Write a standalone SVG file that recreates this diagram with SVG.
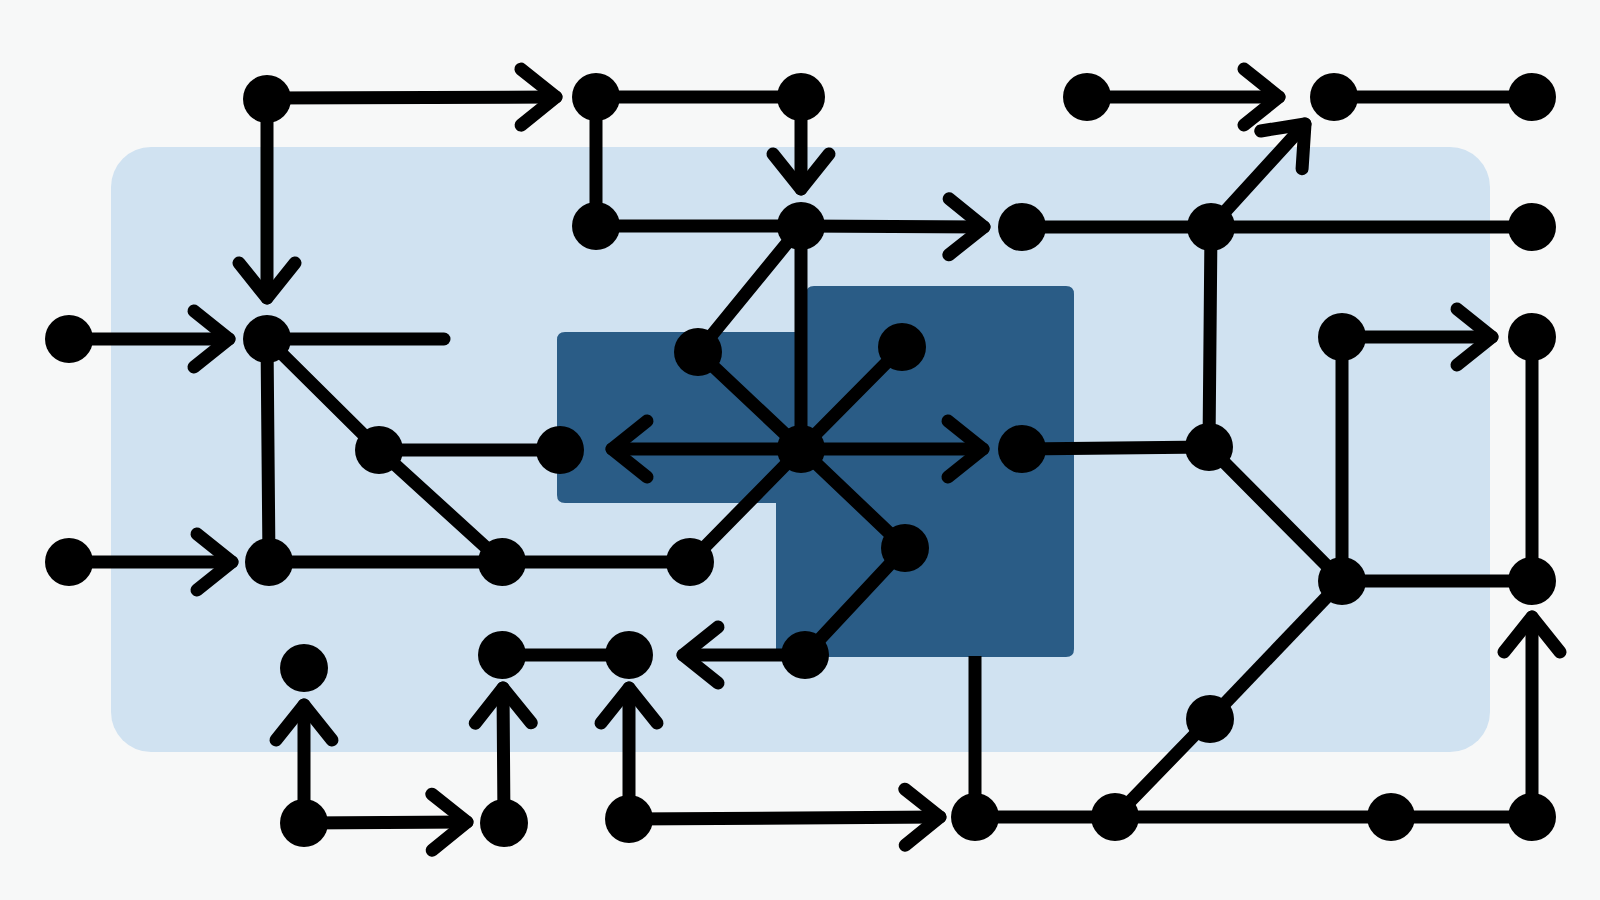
<svg xmlns="http://www.w3.org/2000/svg" width="1600" height="900" viewBox="0 0 1600 900">
  <style>
    .n { fill: #000; }
    .e { stroke: #000; stroke-width: 13; stroke-linecap: round; stroke-linejoin: round; fill: none; }
    .b { stroke-linecap: butt; }
    .a { marker-end: url(#arr); }
  </style>
  <defs>
    <marker id="arr" markerUnits="userSpaceOnUse" orient="auto" overflow="visible" markerWidth="1" markerHeight="1" refX="0" refY="0">
      <path d="M -35 -28 L 0 0 L -35 28" fill="none" stroke="#000" stroke-width="13" stroke-linecap="round" stroke-linejoin="round"/>
    </marker>
  </defs>
  <rect width="1600" height="900" fill="#f7f8f8"/>
  <g id="regions">
    <rect id="outer-region" x="111" y="147" width="1379" height="605" rx="40" fill="#d0e2f1"/>
    <path id="inner-region" d="M 565 332 L 806 332 L 806 294 Q 806 286 814 286 L 1066 286 Q 1074 286 1074 294 L 1074 649 Q 1074 657 1066 657 L 776 657 L 776 503 L 565 503 Q 557 503 557 495 L 557 340 Q 557 332 565 332 Z" fill="#2a5c86"/>
  </g>
  <g id="connectors">
    <line class="e a" x1="267" y1="98" x2="556" y2="97"/>
    <line class="e a" x1="267" y1="99" x2="267" y2="298"/>
    <line class="e" x1="596" y1="97" x2="596" y2="226"/>
    <line class="e" x1="596" y1="97" x2="801" y2="97"/>
    <line class="e a" x1="801" y1="97" x2="801" y2="189"/>
    <line class="e" x1="596" y1="226" x2="801" y2="226"/>
    <line class="e a" x1="801" y1="226" x2="984" y2="227"/>
    <line class="e" x1="801" y1="226" x2="698" y2="352"/>
    <line class="e" x1="801" y1="226" x2="801" y2="449"/>
    <line class="e a" x1="1087" y1="97" x2="1279" y2="97"/>
    <line class="e" x1="1334" y1="97" x2="1532" y2="97"/>
    <line class="e" x1="1022" y1="227" x2="1532" y2="227"/>
    <line class="e a" x1="1211" y1="227" x2="1305" y2="124"/>
    <line class="e" x1="1211" y1="227" x2="1209" y2="447"/>
    <line class="e a" x1="69" y1="339" x2="229" y2="339"/>
    <line class="e" x1="267" y1="339" x2="444" y2="339"/>
    <line class="e" x1="267" y1="339" x2="269" y2="562"/>
    <line class="e" x1="267" y1="339" x2="379" y2="450"/>
    <line class="e" x1="379" y1="450" x2="560" y2="450"/>
    <line class="e" x1="379" y1="450" x2="502" y2="562"/>
    <line class="e" x1="698" y1="352" x2="801" y2="449"/>
    <line class="e" x1="902" y1="347" x2="801" y2="449"/>
    <line class="e a" x1="801" y1="449" x2="612" y2="449"/>
    <line class="e a" x1="801" y1="449" x2="983" y2="449"/>
    <line class="e" x1="801" y1="449" x2="690" y2="562"/>
    <line class="e" x1="801" y1="449" x2="905" y2="548"/>
    <line class="e" x1="905" y1="548" x2="805" y2="655"/>
    <line class="e a" x1="805" y1="655" x2="683" y2="655"/>
    <line class="e" x1="1022" y1="449" x2="1209" y2="447"/>
    <line class="e" x1="1209" y1="447" x2="1342" y2="581"/>
    <line class="e" x1="1342" y1="337" x2="1342" y2="581"/>
    <line class="e a" x1="1342" y1="337" x2="1492" y2="337"/>
    <line class="e" x1="1532" y1="337" x2="1532" y2="581"/>
    <line class="e" x1="1342" y1="581" x2="1532" y2="581"/>
    <line class="e" x1="1342" y1="581" x2="1210" y2="719"/>
    <line class="e" x1="1210" y1="719" x2="1115" y2="817"/>
    <line class="e a" x1="1532" y1="817" x2="1532" y2="617"/>
    <line class="e" x1="975" y1="817" x2="1532" y2="817"/>
    <line class="e b" x1="975" y1="817" x2="975" y2="656"/>
    <line class="e a" x1="629" y1="819" x2="940" y2="817"/>
    <line class="e a" x1="629" y1="819" x2="629" y2="688"/>
    <line class="e a" x1="504" y1="823" x2="503" y2="688"/>
    <line class="e a" x1="304" y1="823" x2="304" y2="705"/>
    <line class="e a" x1="304" y1="823" x2="467" y2="822"/>
    <line class="e" x1="502" y1="655" x2="629" y2="655"/>
    <line class="e a" x1="69" y1="562" x2="232" y2="562"/>
    <line class="e" x1="269" y1="562" x2="690" y2="562"/>
  </g>
  <g id="nodes">
    <circle id="A1" class="n" cx="267" cy="99" r="24"/>
    <circle id="A2" class="n" cx="596" cy="97" r="24"/>
    <circle id="A3" class="n" cx="801" cy="97" r="24"/>
    <circle id="A4" class="n" cx="1087" cy="97" r="24"/>
    <circle id="A5" class="n" cx="1334" cy="97" r="24"/>
    <circle id="A6" class="n" cx="1532" cy="97" r="24"/>
    <circle id="B1" class="n" cx="596" cy="226" r="24"/>
    <circle id="B2" class="n" cx="801" cy="226" r="24"/>
    <circle id="B3" class="n" cx="1022" cy="227" r="24"/>
    <circle id="B4" class="n" cx="1211" cy="227" r="24"/>
    <circle id="B5" class="n" cx="1532" cy="227" r="24"/>
    <circle id="C1" class="n" cx="69" cy="339" r="24"/>
    <circle id="C2" class="n" cx="267" cy="339" r="24"/>
    <circle id="C3" class="n" cx="698" cy="352" r="24"/>
    <circle id="C4" class="n" cx="902" cy="347" r="24"/>
    <circle id="C5" class="n" cx="1342" cy="337" r="24"/>
    <circle id="C6" class="n" cx="1532" cy="337" r="24"/>
    <circle id="D1" class="n" cx="379" cy="450" r="24"/>
    <circle id="D2" class="n" cx="560" cy="450" r="24"/>
    <circle id="D3" class="n" cx="801" cy="449" r="24"/>
    <circle id="D4" class="n" cx="1022" cy="449" r="24"/>
    <circle id="D5" class="n" cx="1209" cy="447" r="24"/>
    <circle id="E1" class="n" cx="69" cy="562" r="24"/>
    <circle id="E2" class="n" cx="269" cy="562" r="24"/>
    <circle id="E3" class="n" cx="502" cy="562" r="24"/>
    <circle id="E4" class="n" cx="690" cy="562" r="24"/>
    <circle id="E5" class="n" cx="905" cy="548" r="24"/>
    <circle id="E6" class="n" cx="1342" cy="581" r="24"/>
    <circle id="E7" class="n" cx="1532" cy="581" r="24"/>
    <circle id="F1" class="n" cx="304" cy="668" r="24"/>
    <circle id="F2" class="n" cx="502" cy="655" r="24"/>
    <circle id="F3" class="n" cx="629" cy="655" r="24"/>
    <circle id="F4" class="n" cx="805" cy="655" r="24"/>
    <circle id="G1" class="n" cx="1210" cy="719" r="24"/>
    <circle id="H1" class="n" cx="304" cy="823" r="24"/>
    <circle id="H2" class="n" cx="504" cy="823" r="24"/>
    <circle id="H3" class="n" cx="629" cy="819" r="24"/>
    <circle id="H4" class="n" cx="975" cy="817" r="24"/>
    <circle id="H5" class="n" cx="1115" cy="817" r="24"/>
    <circle id="H6" class="n" cx="1391" cy="817" r="24"/>
    <circle id="H7" class="n" cx="1532" cy="817" r="24"/>
  </g>
</svg>
